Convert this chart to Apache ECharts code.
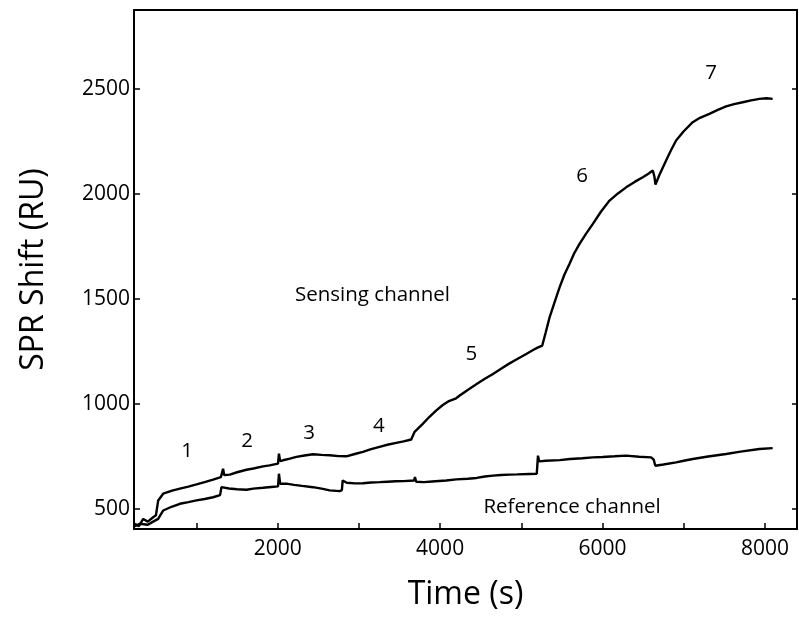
<!DOCTYPE html>
<html>
<head>
<meta charset="utf-8">
<script src="https://cdn.jsdelivr.net/npm/echarts@6/dist/echarts.min.js"></script>
<style>
    html, body { margin: 0; padding: 0; background: #fff; }
    #chart { width: 799px; height: 617px; }
</style>
</head>
<body>
<div id="chart"></div>
<script>
// values (time in s, shift in RU)
let sensingTime = [240, 290, 343, 400, 466, 500, 528, 589, 700, 795, 900, 1000, 1100, 1204, 1300, 1320, 1327, 1340, 1410, 1500,
    1615, 1700, 1819, 1900, 2004, 2015, 2030, 2065, 2150, 2230, 2330, 2434, 2540, 2640, 2750, 2845, 2950, 3049, 3150, 3254,
    3350, 3459, 3550, 3644, 3660, 3685, 3780, 3869, 3950, 4033, 4100, 4197, 4241, 4340, 4450, 4551, 4651, 4750, 4850, 4950,
    5061, 5150, 5200, 5258, 5300, 5348, 5410, 5471, 5530, 5594, 5650, 5717, 5800, 5881, 5980, 6086, 6190, 6291, 6400, 6496,
    6560, 6619, 6640, 6652, 6700, 6783, 6840, 6906, 7000, 7111, 7200, 7316, 7420, 7522, 7620, 7726, 7830, 7931, 8020, 8095];
let sensingValue = [430, 418, 453, 440, 461, 470, 541, 573, 588, 597, 607, 617, 628, 640, 652, 658, 692, 662, 664, 675,
    687, 693, 703, 708, 716, 764, 728, 732, 740, 748, 755, 761, 758, 756, 752, 751, 762, 772, 785, 796,
    806, 815, 822, 831, 845, 867, 903, 939, 968, 995, 1012, 1027, 1040, 1067, 1095, 1120, 1143, 1168, 1192, 1214,
    1238, 1258, 1268, 1278, 1340, 1412, 1485, 1555, 1615, 1667, 1716, 1762, 1812, 1857, 1915, 1968, 2002, 2031, 2058, 2079,
    2095, 2111, 2080, 2044, 2090, 2159, 2205, 2254, 2298, 2341, 2362, 2381, 2400, 2416, 2427, 2436, 2445, 2452, 2455, 2452];

let referenceTime = [240, 300, 400, 466, 528, 560, 589, 700, 795, 900, 1000, 1100, 1204, 1290, 1307, 1400, 1500, 1615, 1700, 1819,
    1920, 2004, 2015, 2030, 2107, 2200, 2300, 2434, 2540, 2640, 2763, 2790, 2800, 2850, 2950, 3049, 3150, 3254, 3350, 3450,
    3550, 3680, 3690, 3705, 3800, 3900, 4074, 4200, 4340, 4450, 4550, 4651, 4750, 4850, 4950, 5100, 5190, 5205, 5220, 5300,
    5471, 5600, 5750, 5881, 6000, 6150, 6291, 6450, 6599, 6630, 6650, 6750, 6906, 7000, 7111, 7300, 7522, 7700, 7931, 8095];
let referenceValue = [418, 430, 425, 440, 453, 475, 493, 512, 525, 533, 541, 548, 556, 566, 604, 598, 594, 592, 597, 601,
    605, 608, 668, 620, 621, 615, 610, 604, 597, 589, 585, 590, 636, 625, 622, 623, 626, 628, 630, 632,
    633, 636, 652, 630, 628, 631, 636, 641, 644, 648, 655, 659, 662, 664, 665, 667, 668, 754, 727, 730,
    733, 738, 742, 746, 748, 751, 754, 749, 746, 735, 706, 712, 722, 730, 738, 750, 762, 773, 786, 790];

let noteText = ['1', '2', '3', '4', '5', '6', '7', 'Sensing channel', 'Reference channel'];
let noteTime = [884, 1622, 2385, 3246, 4385, 5750, 7337, 3167, 5625];
let noteValue = [774, 825, 860, 893, 1238, 2082, 2574, 1516, 508];

let xTicks = [1000, 2000, 3000, 4000, 5000, 6000, 7000, 8000];
let xTickLabels = [2000, 4000, 6000, 8000];
let yTicks = [500, 1000, 1500, 2000, 2500];

function zipPoints(xs, ys) {
    let pts = [];
    for (let i = 0; i < xs.length; i++) {
        pts.push([xs[i], ys[i]]);
    }
    return pts;
}

function plainNumber(v) {
    return String(v);
}

function renderChart() {
    let font = '"Open Sans", "Noto Sans", sans-serif';
    let frameLine = { show: true, onZero: false, lineStyle: { color: '#000', width: 2 } };
    let options = {
        animation: false,
        textStyle: { fontFamily: font },
        grid: { left: 134, right: 2, top: 10, bottom: 88 },
        xAxis: [
            {
                type: 'value',
                min: 230,
                max: 8395,
                axisLine: frameLine,
                axisTick: { show: true, inside: true, length: 6, customValues: xTicks, lineStyle: { color: '#000', width: 1.5 } },
                axisLabel: { show: true, customValues: xTickLabels, formatter: plainNumber, color: '#000', fontSize: 21, margin: 10, fontFamily: font },
                splitLine: { show: false },
                name: 'Time (s)',
                nameLocation: 'middle',
                nameGap: 50,
                nameTextStyle: { color: '#000', fontSize: 32, fontFamily: font }
            },
            {
                type: 'value',
                position: 'top',
                min: 230,
                max: 8395,
                axisLine: frameLine,
                axisTick: { show: false },
                axisLabel: { show: false },
                splitLine: { show: false }
            }
        ],
        yAxis: [
            {
                type: 'value',
                min: 405,
                max: 2875,
                axisLine: frameLine,
                axisTick: { show: true, inside: true, length: 6, customValues: yTicks, lineStyle: { color: '#000', width: 1.5 } },
                axisLabel: { show: true, customValues: yTicks, formatter: plainNumber, color: '#000', fontSize: 21, margin: 4, fontFamily: font },
                splitLine: { show: false },
                name: 'SPR Shift (RU)',
                nameLocation: 'middle',
                nameGap: 84,
                nameTextStyle: { color: '#000', fontSize: 32, fontFamily: font }
            },
            {
                type: 'value',
                position: 'right',
                min: 405,
                max: 2875,
                axisLine: frameLine,
                axisTick: { show: true, inside: true, length: 5, customValues: yTicks, lineStyle: { color: '#000', width: 1.5 } },
                axisLabel: { show: false },
                splitLine: { show: false }
            }
        ],
        series: [
            {
                name: 'Sensing channel',
                type: 'line',
                showSymbol: false,
                lineStyle: { color: '#000', width: 2.4 },
                data: zipPoints(sensingTime, sensingValue)
            },
            {
                name: 'Reference channel',
                type: 'line',
                showSymbol: false,
                lineStyle: { color: '#000', width: 2.4 },
                data: zipPoints(referenceTime, referenceValue)
            },
            {
                name: 'notes',
                type: 'scatter',
                symbolSize: 1,
                silent: true,
                itemStyle: { color: 'rgba(0,0,0,0)', opacity: 1 },
                label: {
                    show: true,
                    position: 'inside',
                    color: '#000',
                    opacity: 1,
                    textBorderWidth: 0,
                    fontSize: 20.5,
                    fontFamily: font,
                    formatter: function(p) { return noteText[p.dataIndex]; }
                },
                data: zipPoints(noteTime, noteValue)
            }
        ]
    };
    let chart = echarts.init(document.getElementById('chart'));
    chart.setOption(options);
}

renderChart();
</script>
</body>
</html>
